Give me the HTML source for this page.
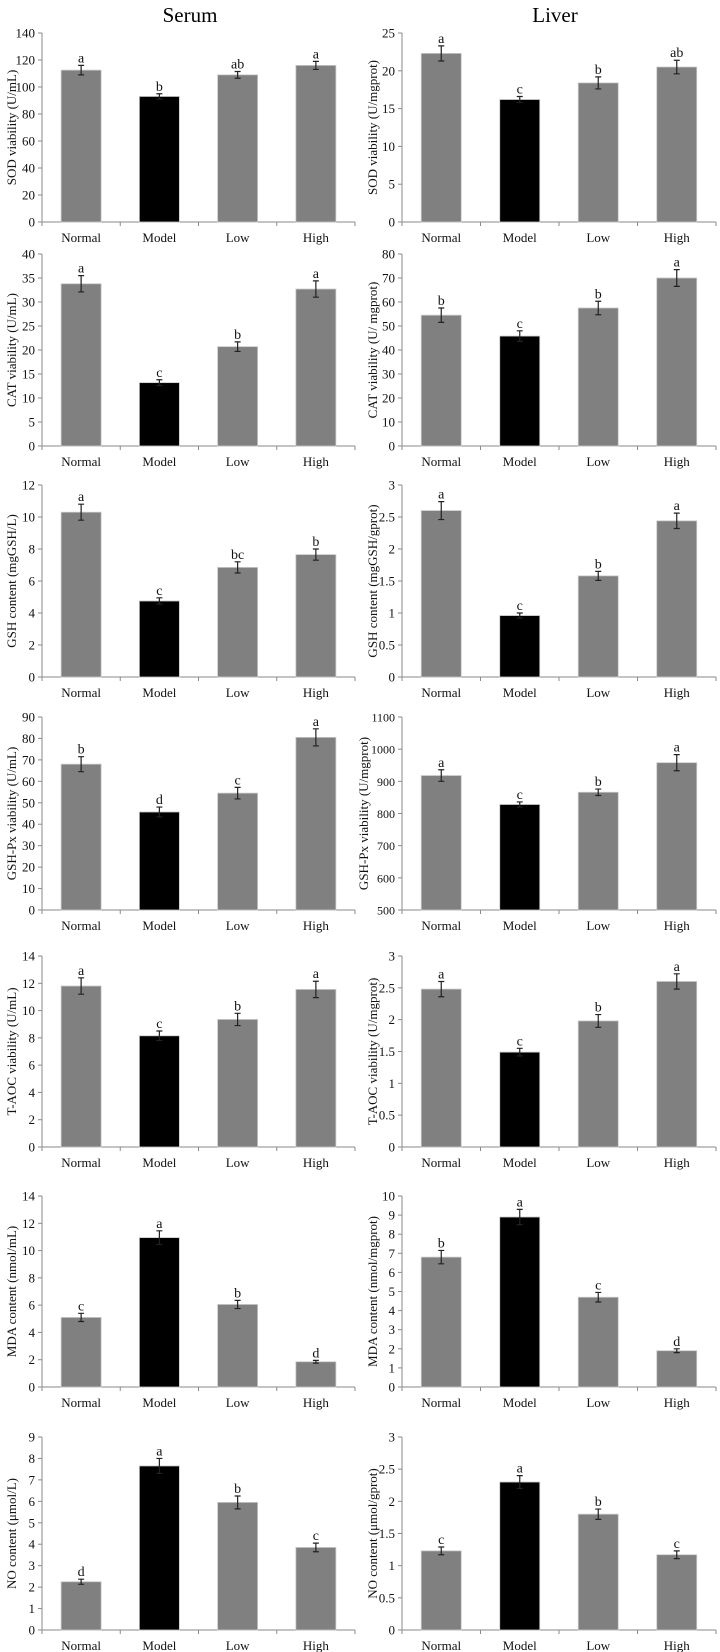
<!DOCTYPE html>
<html><head><meta charset="utf-8">
<style>
html,body{margin:0;padding:0;background:#fff;}
svg{display:block;font-family:"Liberation Serif",serif;}
</style></head>
<body>
<svg id="fig" width="720" height="1652" viewBox="0 0 720 1652" xmlns="http://www.w3.org/2000/svg">
<text x="190" y="22" font-size="21" text-anchor="middle">Serum</text>
<text x="555" y="22" font-size="21" text-anchor="middle">Liver</text>
</svg>
<script>
const categories = ["Normal","Model","Low","High"];

const sodSerumMean = [112.5, 93, 109, 116];
const sodSerumErr = [3.5, 2, 2.5, 3];
const sodSerumLetters = ["a","b","ab","a"];
const sodLiverMean = [22.3, 16.2, 18.4, 20.5];
const sodLiverErr = [1, 0.4, 0.8, 0.9];
const sodLiverLetters = ["a","c","b","ab"];

const catSerumMean = [33.8, 13.2, 20.7, 32.7];
const catSerumErr = [1.7, 0.6, 1, 1.7];
const catSerumLetters = ["a","c","b","a"];
const catLiverMean = [54.5, 45.8, 57.5, 70];
const catLiverErr = [3, 2.2, 2.8, 3.5];
const catLiverLetters = ["b","c","b","a"];

const gshSerumMean = [10.3, 4.75, 6.85, 7.65];
const gshSerumErr = [0.5, 0.2, 0.35, 0.35];
const gshSerumLetters = ["a","c","bc","b"];
const gshLiverMean = [2.6, 0.96, 1.58, 2.44];
const gshLiverErr = [0.14, 0.04, 0.07, 0.12];
const gshLiverLetters = ["a","c","b","a"];

const gpxSerumMean = [68, 45.7, 54.5, 80.5];
const gpxSerumErr = [3.5, 2.3, 2.7, 4];
const gpxSerumLetters = ["b","d","c","a"];
const gpxLiverMean = [918, 828, 866, 958];
const gpxLiverErr = [18, 8, 10, 25];
const gpxLiverLetters = ["a","c","b","a"];

const taocSerumMean = [11.8, 8.15, 9.35, 11.55];
const taocSerumErr = [0.6, 0.35, 0.45, 0.6];
const taocSerumLetters = ["a","c","b","a"];
const taocLiverMean = [2.48, 1.49, 1.98, 2.6];
const taocLiverErr = [0.12, 0.06, 0.1, 0.12];
const taocLiverLetters = ["a","c","b","a"];

const mdaSerumMean = [5.1, 10.95, 6.05, 1.85];
const mdaSerumErr = [0.3, 0.5, 0.3, 0.1];
const mdaSerumLetters = ["c","a","b","d"];
const mdaLiverMean = [6.8, 8.9, 4.7, 1.9];
const mdaLiverErr = [0.35, 0.4, 0.25, 0.1];
const mdaLiverLetters = ["b","a","c","d"];

const noSerumMean = [2.25, 7.65, 5.95, 3.85];
const noSerumErr = [0.12, 0.35, 0.3, 0.2];
const noSerumLetters = ["d","a","b","c"];
const noLiverMean = [1.23, 2.3, 1.8, 1.17];
const noLiverErr = [0.06, 0.1, 0.08, 0.06];
const noLiverLetters = ["c","a","b","c"];

const rows = [[33,222],[254,446],[485,677],[717,910],[956,1147],[1196,1387],[1437,1630]];
const cols = [{x0:42,x1:355,lx:13},{x0:402,x1:716,lx:374}];

const panels = [
 {r:0,c:0,id:"sod-serum",min:0,max:140,step:20,label:"SOD viability (U/mL)",m:sodSerumMean,e:sodSerumErr,l:sodSerumLetters},
 {r:0,c:1,id:"sod-liver",min:0,max:25,step:5,label:"SOD viability (U/mgprot)",m:sodLiverMean,e:sodLiverErr,l:sodLiverLetters},
 {r:1,c:0,id:"cat-serum",min:0,max:40,step:5,label:"CAT viability (U/mL)",m:catSerumMean,e:catSerumErr,l:catSerumLetters},
 {r:1,c:1,id:"cat-liver",min:0,max:80,step:10,label:"CAT viability (U/ mgprot)",m:catLiverMean,e:catLiverErr,l:catLiverLetters},
 {r:2,c:0,id:"gsh-serum",min:0,max:12,step:2,label:"GSH content (mgGSH/L)",m:gshSerumMean,e:gshSerumErr,l:gshSerumLetters},
 {r:2,c:1,id:"gsh-liver",min:0,max:3,step:0.5,label:"GSH content (mgGSH/gprot)",m:gshLiverMean,e:gshLiverErr,l:gshLiverLetters},
 {r:3,c:0,id:"gshpx-serum",min:0,max:90,step:10,label:"GSH-Px viability (U/mL)",m:gpxSerumMean,e:gpxSerumErr,l:gpxSerumLetters},
 {r:3,c:1,id:"gshpx-liver",min:500,max:1100,step:100,label:"GSH-Px viability (U/mgprot)",m:gpxLiverMean,e:gpxLiverErr,l:gpxLiverLetters,lx:365,tf:12},
 {r:4,c:0,id:"taoc-serum",min:0,max:14,step:2,label:"T-AOC viability (U/mL)",m:taocSerumMean,e:taocSerumErr,l:taocSerumLetters},
 {r:4,c:1,id:"taoc-liver",min:0,max:3,step:0.5,label:"T-AOC viability (U/mgprot)",m:taocLiverMean,e:taocLiverErr,l:taocLiverLetters},
 {r:5,c:0,id:"mda-serum",min:0,max:14,step:2,label:"MDA content (nmol/mL)",m:mdaSerumMean,e:mdaSerumErr,l:mdaSerumLetters},
 {r:5,c:1,id:"mda-liver",min:0,max:10,step:1,label:"MDA content (nmol/mgprot)",m:mdaLiverMean,e:mdaLiverErr,l:mdaLiverLetters},
 {r:6,c:0,id:"no-serum",min:0,max:9,step:1,label:"NO content (μmol/L)",m:noSerumMean,e:noSerumErr,l:noSerumLetters},
 {r:6,c:1,id:"no-liver",min:0,max:3,step:0.5,label:"NO content (μmol/gprot)",m:noLiverMean,e:noLiverErr,l:noLiverLetters}
];

const NS = "http://www.w3.org/2000/svg";
const svg = document.getElementById("fig");
function mk(tag, attrs, parent){
  const el = document.createElementNS(NS, tag);
  for (const k in attrs) el.setAttribute(k, attrs[k]);
  (parent||svg).appendChild(el);
  return el;
}

panels.forEach(p => {
  const col = cols[p.c], row = rows[p.r];
  const top = row[0], zero = row[1];
  const lx = p.lx || col.lx;
  const tf = p.tf || 13;
  const g = mk("g", {});
  
  
  const y = v => zero - (v - p.min) / (p.max - p.min) * (zero - top);
  const band = (col.x1 - col.x0) / categories.length;
  const xc = i => col.x0 + band * (i + 0.5);

  const ya = mk("line", {x1:col.x0,y1:top,x2:col.x0,y2:zero,stroke:"#8a8a8a","stroke-width":1}, g);
  
  
  const xa = mk("line", {x1:col.x0,y1:zero,x2:col.x1,y2:zero,stroke:"#8a8a8a","stroke-width":1}, g);
  
  

  const n = Math.round((p.max - p.min) / p.step);
  for (let k = 0; k <= n; k++) {
    const v = p.min + k * p.step;
    const yy = y(v);
    mk("line", {x1:col.x0-4,y1:yy,x2:col.x0,y2:yy,stroke:"#8a8a8a","stroke-width":1}, g);
    const t = mk("text", {x:col.x0-7,y:yy+4.5,"font-size":tf,"text-anchor":"end",fill:"#111"}, g);
    t.textContent = String(Math.round(v*10)/10);
    
    
  }
  for (let i = 0; i <= categories.length; i++) {
    const xx = col.x0 + band * i;
    mk("line", {x1:xx,y1:zero,x2:xx,y2:zero+4,stroke:"#8a8a8a","stroke-width":1}, g);
  }
  const cy = (top + zero) / 2;
  const yl = mk("text", {x:lx,y:cy,"font-size":13,"text-anchor":"middle",transform:`rotate(-90 ${lx} ${cy})`,"dominant-baseline":"middle",fill:"#111"}, g);
  yl.textContent = p.label;
  
  

  categories.forEach((c, i) => {
    const bx = xc(i) - 20;
    const by = y(p.m[i]);
    const bar = mk("rect", {x:bx,y:by,width:40,height:zero-by,fill:i===1?"#000":"#808080",stroke:"#c8c8c8","stroke-width":0.8}, g);
    
    
    const eTop = y(p.m[i] + p.e[i]), eBot = y(p.m[i] - p.e[i]);
    const eb = mk("path", {d:`M${xc(i)},${eTop}V${eBot}M${xc(i)-3},${eTop}H${xc(i)+3}M${xc(i)-3},${eBot}H${xc(i)+3}`,stroke:"#222","stroke-width":1.2,fill:"none"}, g);
    
    
    const lt = mk("text", {x:xc(i),y:eTop-3,"font-size":14,"text-anchor":"middle",fill:"#111"}, g);
    lt.textContent = p.l[i];
    
    
    const cl = mk("text", {x:xc(i),y:zero+20,"font-size":13,"text-anchor":"middle",fill:"#111"}, g);
    cl.textContent = c;
    
    
  });
});
</script>
</body></html>
